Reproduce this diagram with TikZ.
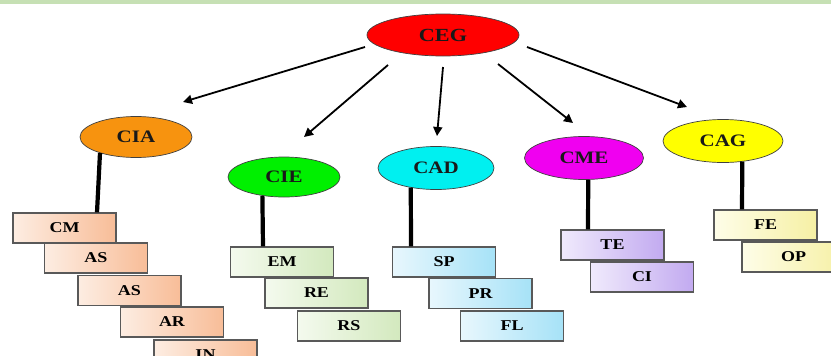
\documentclass[tikz,border=0pt]{standalone}
\usepackage{fontspec}
\setmainfont{Liberation Serif}
\newfontfamily\widefont[FakeStretch=1.2]{Liberation Serif}
\usetikzlibrary{shapes.geometric,arrows.meta}
\definecolor{band}{HTML}{C6E0B4}
\definecolor{boxline}{HTML}{595959}
\definecolor{ciaL}{HTML}{FDEDE2}\definecolor{ciaR}{HTML}{F8BD98}
\definecolor{cieL}{HTML}{F4FAEE}\definecolor{cieR}{HTML}{D3E9BE}
\definecolor{cadL}{HTML}{E8F7FD}\definecolor{cadR}{HTML}{A6E2F7}
\definecolor{cmeL}{HTML}{F0EAFC}\definecolor{cmeR}{HTML}{C2AAF0}
\definecolor{cagL}{HTML}{FEFDE8}\definecolor{cagR}{HTML}{F6F0A4}
\definecolor{orangeC}{HTML}{F7930F}
\definecolor{greenC}{HTML}{00F000}
\definecolor{cyanC}{HTML}{00F0F0}
\definecolor{magC}{HTML}{F000F0}
\definecolor{yelC}{HTML}{FFFF00}
\definecolor{redC}{HTML}{FF0000}
\tikzset{
  topic/.style={ellipse, draw=black!75, line width=0.7pt, inner sep=0pt, text=black!90, font=\widefont\fontsize{17.5}{19}\selectfont\bfseries},
  item/.style={rectangle, draw=boxline, line width=1.2pt, minimum width=103pt, minimum height=30pt, inner sep=0pt, shading=axis, shading angle=90, font=\widefont\fontsize{15}{17}\selectfont\bfseries},
  itemA/.style={item, left color=ciaL, right color=ciaR},
  itemB/.style={item, left color=cieL, right color=cieR},
  itemC/.style={item, left color=cadL, right color=cadR},
  itemD/.style={item, left color=cmeL, right color=cmeR},
  itemE/.style={item, left color=cagL, right color=cagR},
  arr/.style={line width=1.8pt, -{Triangle[length=9pt,width=9pt]}},
  stem/.style={line width=4.2pt}
}
\begin{document}
\begin{tikzpicture}[x=1pt,y=-1pt]
\useasboundingbox (0,0) rectangle (831,356);
\clip (0,0) rectangle (831,356);
\fill[band] (0,0) rectangle (831,4);
% topics
\node[topic, fill=redC, minimum width=152pt, minimum height=42pt, font=\widefont\fontsize{18.5}{20}\selectfont\bfseries] (ceg) at (443,35) {CEG};
\node[topic, fill=orangeC, minimum width=112pt, minimum height=41pt] (cia) at (136,137) {CIA};
\node[topic, fill=greenC, minimum width=112pt, minimum height=40pt] (cie) at (284,177) {CIE};
\node[topic, fill=cyanC, minimum width=116pt, minimum height=43pt] (cad) at (436,168) {CAD};
\node[topic, fill=magC, minimum width=119pt, minimum height=43pt] (cme) at (584,158) {CME};
\node[topic, fill=yelC, minimum width=120pt, minimum height=43pt] (cag) at (723,141) {CAG};
% items
\node[itemA] (cm) at (64.5,228) {CM};
\node[itemA] (as1) at (96,258) {AS};
\node[itemA] (as2) at (129.5,290.5) {AS};
\node[itemA] (ar) at (172,322) {AR};
\node[itemA] (in) at (205.5,355) {IN};
\node[itemB] (em) at (282,262) {EM};
\node[itemB] (re) at (316.5,293) {RE};
\node[itemB] (rs) at (349,326) {RS};
\node[itemC] (sp) at (444,262) {SP};
\node[itemC] (pr) at (480.5,293.5) {PR};
\node[itemC] (fl) at (512,326) {FL};
\node[itemD] (te) at (612.5,245) {TE};
\node[itemD] (ci) at (642,277) {CI};
\node[itemE] (fe) at (765.5,225) {FE};
\node[itemE] (op) at (793.5,257) {OP};
% stems
\draw[stem] (cia.204) -- ([xshift=32.5pt]cm.north);
\draw[stem] (cie.221) -- ([xshift=-19pt]em.north);
\draw[stem] (cad.218) -- ([xshift=-33pt]sp.north);
\draw[stem] (cme.281) -- ([xshift=-24.5pt]te.north);
\draw[stem] (cag.313) -- ([xshift=-23.5pt]fe.north);
% arrows
\draw[arr] ([shift={(-78,12)}]ceg.center) -- ([shift={(47,-35)}]cia.center);
\draw[arr] ([shift={(-55,30)}]ceg.center) -- ([shift={(20,-40)}]cie.center);
\draw[arr] ([shift={(0,32)}]ceg.center) -- ([shift={(1,-32)}]cad.center);
\draw[arr] ([shift={(55,29)}]ceg.center) -- ([shift={(-11,-35)}]cme.center);
\draw[arr] ([shift={(84,12)}]ceg.center) -- ([shift={(-36,-34)}]cag.center);
\end{tikzpicture}
\end{document}
